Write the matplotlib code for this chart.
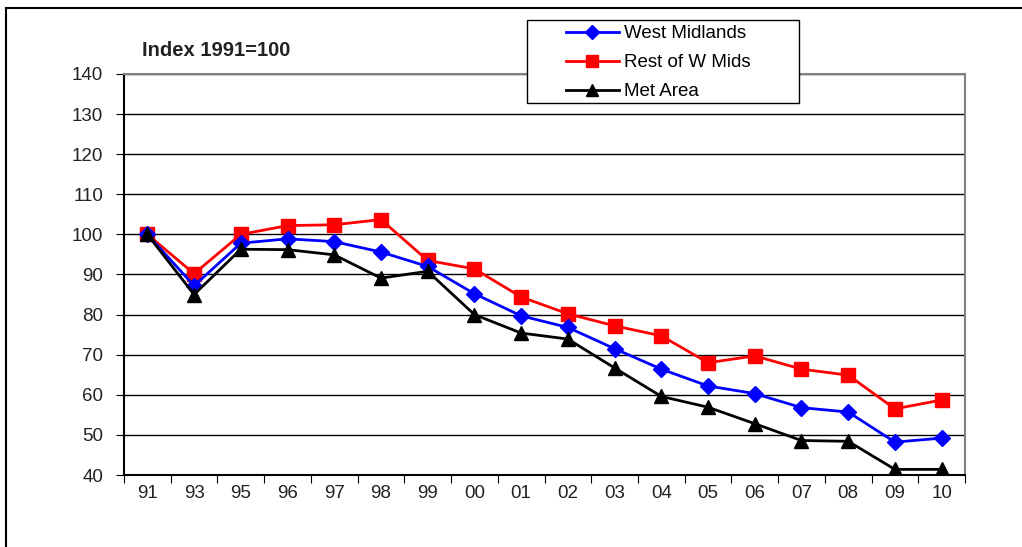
import matplotlib.pyplot as plt
from matplotlib.patches import Rectangle
from matplotlib.lines import Line2D

plt.rcParams['font.family'] = ['Liberation Sans', 'DejaVu Sans']

years = ['91', '93', '95', '96', '97', '98', '99', '00', '01', '02',
         '03', '04', '05', '06', '07', '08', '09', '10']
west_midlands = [100, 87.2, 97.8, 98.9, 98.2, 95.6, 92.0, 85.2, 79.7, 76.8,
                 71.5, 66.4, 62.2, 60.3, 56.8, 55.7, 48.2, 49.2]
rest_of_wmids = [100, 90.2, 100, 102.2, 102.4, 103.7, 93.5, 91.4, 84.4, 80.2,
                 77.2, 74.7, 68.0, 69.7, 66.4, 64.9, 56.5, 58.7]
met_area = [100, 85.0, 96.3, 96.2, 94.9, 89.1, 90.8, 80.0, 75.4, 73.9,
            66.7, 59.6, 56.9, 52.8, 48.6, 48.4, 41.4, 41.4]

W, H = 1022, 547
fig = plt.figure(figsize=(W / 100, H / 100), dpi=100)
ax = fig.add_axes([124 / W, 1 - 475 / H, (965 - 124) / W, (475 - 74) / H])

x = list(range(len(years)))
ax.plot(x, west_midlands, color='#0000ff', marker='D', markersize=8, lw=2,
        label='West Midlands', zorder=4)
ax.plot(x, rest_of_wmids, color='#ff0000', marker='s', markersize=10, lw=2,
        label='Rest of W Mids', zorder=3)
ax.plot(x, met_area, color='black', marker='^', markersize=10, lw=2,
        label='Met Area', zorder=5)

ax.set_xlim(-0.5, len(years) - 0.5)
ax.set_ylim(40, 140)
ax.set_yticks(range(40, 141, 10))
ax.yaxis.grid(True, color='black', lw=1)
ax.set_axisbelow(True)

# ticks between categories, labels centred
ax.set_xticks([i - 0.5 for i in range(len(years) + 1)])
ax.set_xticklabels([])
ax.set_xticks(x, minor=True)
ax.set_xticklabels(years, minor=True)
ax.tick_params(axis='x', which='major', direction='out', length=6, color='black')
ax.tick_params(axis='x', which='minor', length=0, pad=7, labelsize=13.5, labelcolor='#222222')
ax.tick_params(axis='y', direction='out', length=6, pad=9, labelsize=13.5, labelcolor='#222222')

for s in ['top', 'right']:
    ax.spines[s].set_color('#808080')
    ax.spines[s].set_linewidth(1.5)
ax.spines['left'].set_linewidth(1.5)
ax.spines['bottom'].set_linewidth(1.5)

fig.text(142 / W, 1 - 51 / H, 'Index 1991=100', fontsize=14.5, fontweight='bold',
         color='#222222', va='center')

# legend box drawn separately to get the wide side padding
fig.add_artist(Rectangle((527 / W, 1 - 103 / H), (799 - 527) / W, (103 - 20) / H,
                         transform=fig.transFigure, facecolor='white',
                         edgecolor='black', lw=1, zorder=6))
leg = fig.legend(loc='upper left', bbox_to_anchor=(566 / W, 1 - 25 / H), frameon=False,
                 fontsize=13.5, handlelength=2.8, handletextpad=0.3,
                 borderpad=0, labelspacing=0.64, borderaxespad=0)
leg.set_zorder(7)
for h in leg.legend_handles:
    h.set_markersize(h.get_markersize() * 0.85)

# outer chart border (top and left only visible)
fig.add_artist(Line2D([0.006, 1.0], [0.985, 0.985], color='black', lw=1.5))
fig.add_artist(Line2D([0.006, 0.006], [0.0, 0.985], color='black', lw=1.5))

fig.savefig('out.png', dpi=100)
